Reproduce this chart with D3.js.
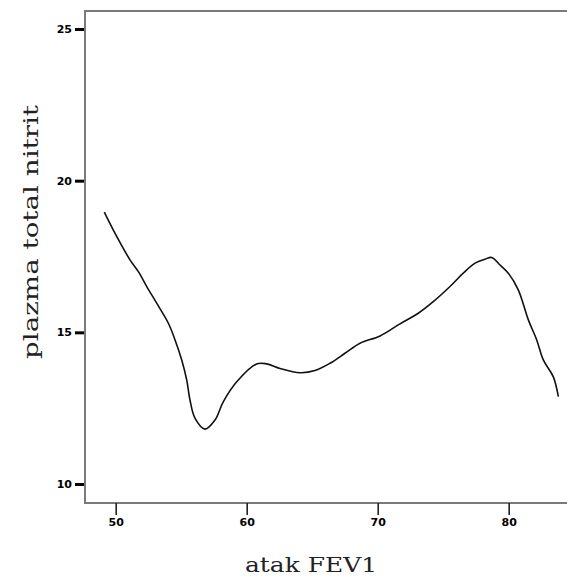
<!DOCTYPE html>
<html>
<head>
<meta charset="utf-8">
<script src="https://cdn.jsdelivr.net/npm/d3@7"></script>
<style>
html,body{margin:0;padding:0;background:#fff;overflow:hidden;}
</style>
</head>
<body>
<script>
const fevValues = [49.13,49.82,51.09,51.73,52.37,53.13,54.02,54.53,55.04,55.42,55.67,56.05,56.82,57.58,58.21,59.24,60.76,61.53,62.54,64.07,65.21,66.36,67.50,68.65,70.18,71.70,73.10,74.24,75.52,76.53,77.43,78.19,78.70,79.34,79.97,80.73,81.50,82.14,82.64,83.40,83.79];
const nitritValues = [18.96,18.37,17.39,17.00,16.51,15.96,15.30,14.75,14.09,13.43,12.77,12.17,11.81,12.11,12.71,13.37,13.96,13.96,13.81,13.67,13.74,13.98,14.31,14.64,14.88,15.28,15.63,16.01,16.51,16.95,17.28,17.41,17.47,17.22,16.95,16.40,15.41,14.75,14.09,13.54,12.88];
const xTicks = [50,60,70,80];
const yTicks = [10,15,20,25];
const xTitle = "atak FEV1";
const yTitle = "plazma total nitrit";

const W = 567, H = 579;
const svg = d3.select("body").append("svg").attr("width", W).attr("height", H);

const x = d3.scaleLinear().domain([50,80]).range([115.7,508.7]);
const y = d3.scaleLinear().domain([10,25]).range([484,29]);

const frameL = 85, frameT = 11, frameB = 503;

// frame
svg.append("path")
  .attr("d", `M${W+10},${frameT}H${frameL}V${frameB}H${W+10}`)
  .attr("fill","none").attr("stroke","#7a7a7a").attr("stroke-width",2);

// y axis ticks
const yAxis = d3.axisLeft(y).tickValues(yTicks).tickSize(9).tickPadding(3).tickFormat(d3.format("d"));
const gy = svg.append("g").attr("transform",`translate(${frameL-1},0)`).call(yAxis);
gy.select(".domain").remove();
gy.selectAll(".tick line").attr("stroke","#000").attr("stroke-width",3);
gy.selectAll(".tick text").attr("font-family","DejaVu Sans").attr("font-weight","bold").attr("font-size",11).attr("fill","#000");

// x axis ticks
const xAxis = d3.axisBottom(x).tickValues(xTicks).tickSize(12).tickPadding(3).tickFormat(d3.format("d"));
const gx = svg.append("g").attr("transform",`translate(0,${frameB})`).call(xAxis);
gx.select(".domain").remove();
gx.selectAll(".tick line").attr("stroke","#222").attr("stroke-width",1.6);
gx.selectAll(".tick text").attr("font-family","DejaVu Sans").attr("font-weight","bold").attr("font-size",11).attr("fill","#000");

// curve
const pts = fevValues.map((v,i)=>[v,nitritValues[i]]);
const line = d3.line().x(d=>x(d[0])).y(d=>y(d[1])).curve(d3.curveCatmullRom.alpha(0.5));
svg.append("path").datum(pts).attr("d",line)
  .attr("fill","none").attr("stroke","#111").attr("stroke-width",1.6);

// titles
svg.append("text").attr("x",311).attr("y",572).attr("text-anchor","middle")
  .attr("font-family","DejaVu Serif").attr("font-size",20).attr("fill","#222")
  .attr("textLength",132).attr("lengthAdjust","spacingAndGlyphs").text(xTitle);
svg.append("text").attr("transform","translate(38,232) rotate(-90)").attr("text-anchor","middle")
  .attr("font-family","DejaVu Serif").attr("font-size",21).attr("fill","#222")
  .attr("textLength",254).attr("lengthAdjust","spacingAndGlyphs").text(yTitle);
</script>
</body>
</html>
